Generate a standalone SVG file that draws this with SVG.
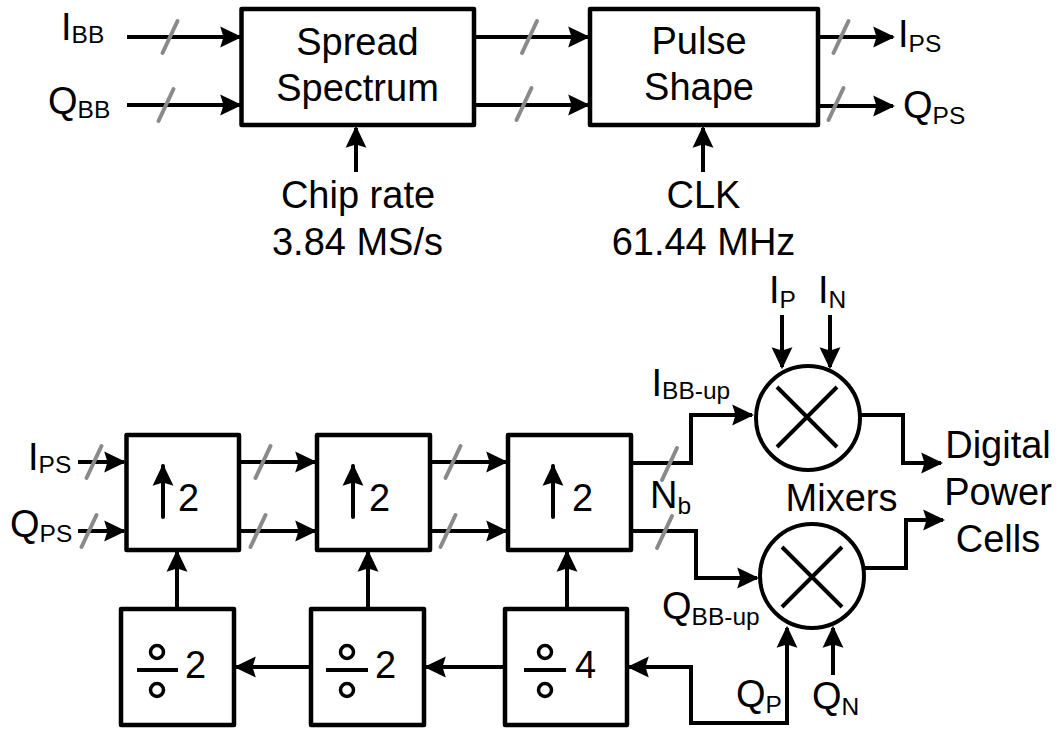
<svg xmlns="http://www.w3.org/2000/svg" width="1062" height="730" viewBox="0 0 1062 730">
<style>
.w{fill:none;stroke:#000;stroke-width:4}
.b{fill:#fff;stroke:#000;stroke-width:4.5;stroke-linejoin:round}
.s{stroke:#8a8a8a;stroke-width:4;stroke-linecap:round}
.t{font-family:"Liberation Sans",Arial,sans-serif;font-size:38px;fill:#000}
.sub{font-size:24.5px}
.c{text-anchor:middle}
.a{marker-end:url(#ah)}
</style>
<defs>
<marker id="ah" markerUnits="userSpaceOnUse" markerWidth="22" markerHeight="22" viewBox="0 0 20 20" refX="18" refY="10" orient="auto-start-reverse">
<path d="M0,0.5 L20,10 L0,19.5 L3,10 z" fill="#000"/>
</marker>
<line id="sl" x1="-7.5" y1="16" x2="7.5" y2="-16" class="s"/>
</defs>

<g id="connectors">
<path class="w a" d="M127,37 H240"/>
<path class="w a" d="M127,105 H240"/>
<path class="w a" d="M474,37 H588"/>
<path class="w a" d="M474,105 H588"/>
<path class="w a" d="M818,37 H893"/>
<path class="w a" d="M818,106 H893"/>
<path class="w a" d="M356,172 V128"/>
<path class="w a" d="M703,172 V128"/>
<path class="w a" d="M78,462 H124"/>
<path class="w a" d="M78,531 H124"/>
<path class="w a" d="M239,462 H315"/>
<path class="w a" d="M239,531 H315"/>
<path class="w a" d="M430,462 H506"/>
<path class="w a" d="M430,531 H506"/>
<path class="w a" d="M177,607 V552"/>
<path class="w a" d="M368,607 V552"/>
<path class="w a" d="M567,607 V552"/>
<path class="w a" d="M309,667 H236"/>
<path class="w a" d="M503,667 H426"/>
<path class="w" style="marker-start:url(#ah);marker-end:url(#ah)" d="M787,628 V723 H691 V667 H629"/>
<path class="w a" d="M833,675 V628"/>
<path class="w a" d="M782,315 V367"/>
<path class="w a" d="M830,315 V367"/>
<path class="w a" d="M631,463 H691 V415 H752"/>
<path class="w a" d="M631,531 H696 V578 H757"/>
<path class="w a" d="M860,415 H903 V463 H941"/>
<path class="w a" d="M864,568 H906 V520 H943"/>
<use href="#sl" x="170" y="37"/>
<use href="#sl" x="166" y="105"/>
<use href="#sl" x="529.5" y="37"/>
<use href="#sl" x="524" y="104"/>
<use href="#sl" x="841" y="37"/>
<use href="#sl" x="836" y="104"/>
<use href="#sl" x="94" y="462"/>
<use href="#sl" x="89" y="531"/>
<use href="#sl" x="263" y="462"/>
<use href="#sl" x="258" y="531"/>
<use href="#sl" x="453" y="462"/>
<use href="#sl" x="448" y="531"/>
<use href="#sl" x="669.5" y="464"/>
<use href="#sl" x="664.5" y="532"/>
</g>

<g id="spread">
<rect class="b" x="241.5" y="9" width="232.5" height="116"/>
<text class="t c" x="357.5" y="55">Spread</text>
<text class="t c" x="357.5" y="100.5">Spectrum</text>
</g>
<g id="pulse">
<rect class="b" x="590" y="9" width="228" height="116"/>
<text class="t c" x="699" y="54">Pulse</text>
<text class="t c" x="699" y="100">Shape</text>
</g>

<g id="labels-top">
<text class="t" x="61" y="40">I<tspan class="sub" dy="3">BB</tspan></text>
<text class="t" x="48" y="114">Q<tspan class="sub" dy="4">BB</tspan></text>
<text class="t" x="898" y="47">I<tspan class="sub" dy="5">PS</tspan></text>
<text class="t" x="903" y="118">Q<tspan class="sub" dy="6">PS</tspan></text>
<text class="t c" x="358" y="208">Chip rate</text>
<text class="t c" x="357.5" y="255">3.84 MS/s</text>
<text class="t c" x="703.5" y="208">CLK</text>
<text class="t c" x="703.5" y="255">61.44 MHz</text>
</g>

<g id="up1">
<rect class="b" x="126.5" y="435" width="112.5" height="115"/>
<path class="w a" d="M163,517 V466" style="stroke-linecap:round"/>
<text class="t" x="178" y="511">2</text>
</g>
<g id="up2">
<rect class="b" x="317" y="435" width="113" height="115"/>
<path class="w a" d="M353,517 V466" style="stroke-linecap:round"/>
<text class="t" x="369" y="511">2</text>
</g>
<g id="up3">
<rect class="b" x="508" y="435" width="123" height="115"/>
<path class="w a" d="M553,517 V466" style="stroke-linecap:round"/>
<text class="t" x="572" y="511">2</text>
</g>

<g id="div1">
<rect class="b" x="121" y="609" width="113" height="116"/>
<circle cx="157" cy="652" r="6.5" fill="none" stroke="#000" stroke-width="3.5"/>
<line x1="137" y1="670" x2="178" y2="670" stroke="#000" stroke-width="4"/>
<circle cx="157" cy="690" r="6.5" fill="none" stroke="#000" stroke-width="3.5"/>
<text class="t" x="185" y="678">2</text>
</g>
<g id="div2">
<rect class="b" x="311" y="609" width="113" height="116"/>
<circle cx="347" cy="652" r="6.5" fill="none" stroke="#000" stroke-width="3.5"/>
<line x1="326" y1="670" x2="368" y2="670" stroke="#000" stroke-width="4"/>
<circle cx="347" cy="690" r="6.5" fill="none" stroke="#000" stroke-width="3.5"/>
<text class="t" x="375" y="678">2</text>
</g>
<g id="div4">
<rect class="b" x="505" y="609" width="122" height="116"/>
<circle cx="545" cy="652" r="6.5" fill="none" stroke="#000" stroke-width="3.5"/>
<line x1="524" y1="670" x2="566" y2="670" stroke="#000" stroke-width="4"/>
<circle cx="545" cy="690" r="6.5" fill="none" stroke="#000" stroke-width="3.5"/>
<text class="t" x="575" y="678">4</text>
</g>

<g id="mixerI">
<circle cx="808" cy="418" r="52" fill="#fff" stroke="#000" stroke-width="4"/>
<path class="w" d="M777,387 L837,447 M777,447 L837,387"/>
</g>
<g id="mixerQ">
<circle cx="812" cy="576" r="52" fill="#fff" stroke="#000" stroke-width="4"/>
<path class="w" d="M782,547 L842,607 M782,607 L842,547"/>
</g>

<g id="labels-bottom">
<text class="t" x="28" y="470">I<tspan class="sub" dy="3">PS</tspan></text>
<text class="t" x="10" y="537">Q<tspan class="sub" dy="5">PS</tspan></text>
<text class="t" x="651.5" y="396">I<tspan class="sub" dy="3">BB-up</tspan></text>
<text class="t" x="650" y="508">N<tspan class="sub" dy="6">b</tspan></text>
<text class="t" x="662" y="619">Q<tspan class="sub" dy="6">BB-up</tspan></text>
<text class="t" x="769" y="303">I<tspan class="sub" dy="5">P</tspan></text>
<text class="t" x="818" y="303">I<tspan class="sub" dy="5">N</tspan></text>
<text class="t" x="736" y="707">Q<tspan class="sub" dy="6">P</tspan></text>
<text class="t" x="812" y="709">Q<tspan class="sub" dy="6">N</tspan></text>
<text class="t c" x="841.5" y="511">Mixers</text>
<text class="t c" x="998" y="458">Digital</text>
<text class="t c" x="998" y="505">Power</text>
<text class="t c" x="998" y="552">Cells</text>
</g>
</svg>
